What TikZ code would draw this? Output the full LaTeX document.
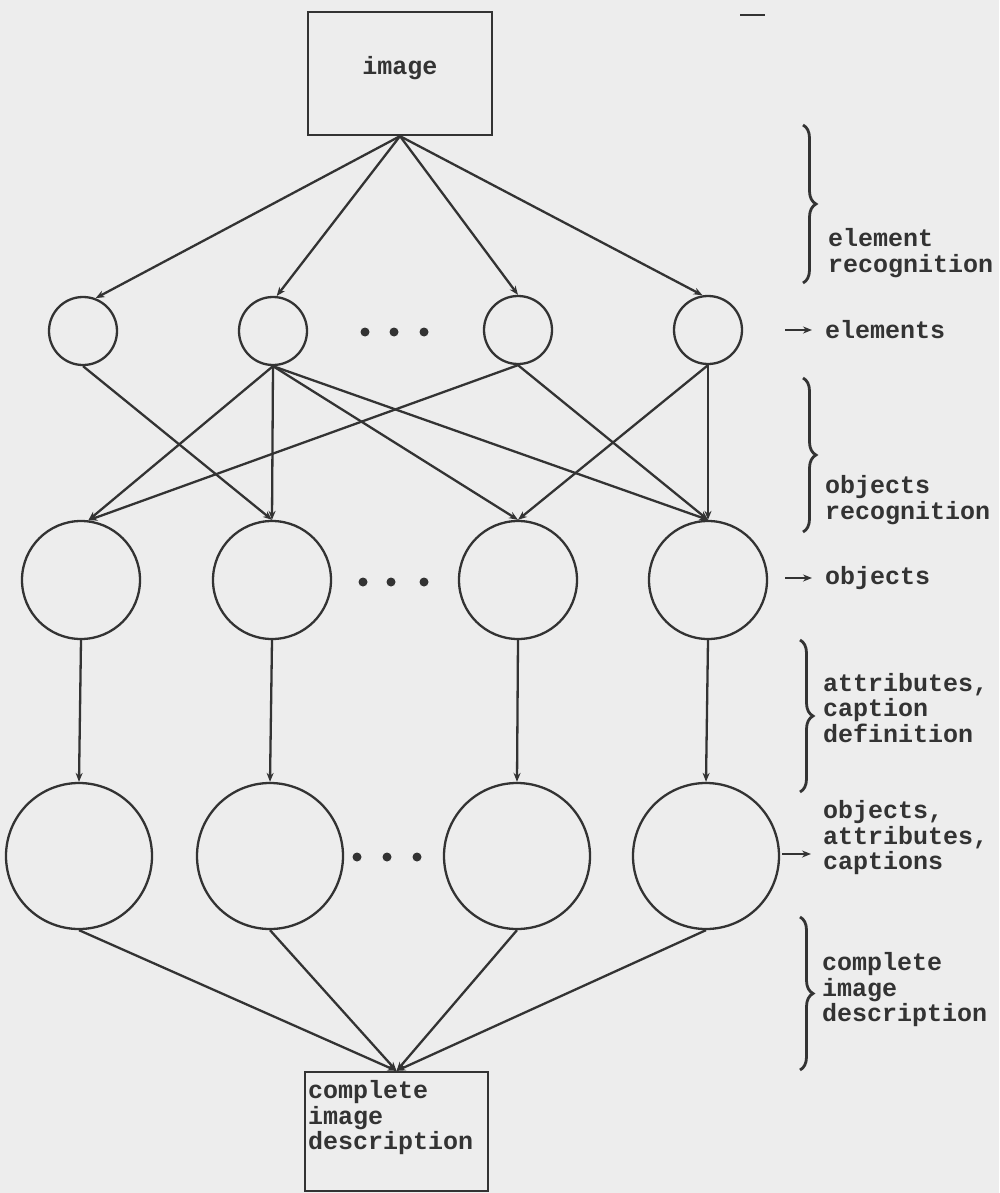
\documentclass[tikz,border=0pt]{standalone}
\usepackage{fontspec}
\setmonofont{Liberation Mono}
\usetikzlibrary{arrows.meta,decorations.pathreplacing}
\definecolor{paper}{HTML}{EDEDED}
\definecolor{ink}{HTML}{333333}
\tikzset{
  lw/.style={line width=2.3pt, draw=ink},
  arr/.style={lw, -{Stealth[length=9pt,width=7pt]}},
  boxnode/.style={lw, rectangle, inner sep=0pt},
  elem/.style={lw, circle, minimum size=68pt, inner sep=0pt},
  obj/.style={lw, circle, minimum size=118pt, inner sep=0pt},
  res/.style={lw, circle, minimum size=146pt, inner sep=0pt},
  dotn/.style={circle, fill=ink, minimum size=9pt, inner sep=0pt},
  lab/.style={text=ink, font=\ttfamily\bfseries\fontsize{25}{25.5}\selectfont, align=left, inner sep=0pt},
  bracel/.style={line width=2.8pt, draw=ink, decorate, decoration={brace, amplitude=13pt}},
}
\begin{document}
\begin{tikzpicture}[x=1pt,y=-1pt]
\fill[paper] (0,0) rectangle (999,1193);
\useasboundingbox (0,0) rectangle (999,1193);

% top and bottom boxes
\node[boxnode, minimum width=184pt, minimum height=123pt] (img) at (400,73.5) {};
\node[lab] (imgtext) at (400,68) {image};
\node[boxnode, minimum width=183pt, minimum height=119pt] (desc) at (396.5,1131.5) {};
\node[lab, anchor=west] (desctext) at (308,1118) {complete\\image\\description};

% element circles
\node[elem] (e1) at (83,331) {};
\node[elem] (e2) at (273,331) {};
\node[elem] (e3) at (518,330) {};
\node[elem] (e4) at (708,330) {};
\node[dotn] (d11) at (365,332) {};
\node[dotn] (d12) at (394,332) {};
\node[dotn] (d13) at (424,332) {};

% object circles
\node[obj] (o1) at (81,580) {};
\node[obj] (o2) at (272,580) {};
\node[obj] (o3) at (518,580) {};
\node[obj] (o4) at (708,580) {};
\node[dotn] (d21) at (363,582) {};
\node[dotn] (d22) at (391,582) {};
\node[dotn] (d23) at (424,582) {};

% result circles
\node[res] (p1) at (79,856) {};
\node[res] (p2) at (270,856) {};
\node[res] (p3) at (517,856) {};
\node[res] (p4) at (706,856) {};
\node[dotn] (d31) at (357,857) {};
\node[dotn] (d32) at (387,857) {};
\node[dotn] (d33) at (417,857) {};

% image -> elements
\draw[arr] (img.south) -- (e1.69);
\draw[arr] (img.south) -- (e2.84);
\draw[arr] (img.south) -- (e3.north);
\draw[arr] (img.south) -- (e4.99);

% elements -> objects
\draw[arr] (e1.south) -- (o2.north);
\draw[arr] (e2.south) -- (o1.83);
\draw[arr] (e2.south) -- (o2.north);
\draw[arr] (e2.south) -- (o3.north);
\draw[arr] (e2.south) -- (o4.north);
\draw[arr] (e3.south) -- (o1.83);
\draw[arr] (e3.south) -- (o4.north);
\draw[arr] (e4.south) -- (o3.north);
\draw[arr] (e4.south) -- (o4.north);

% objects -> results
\draw[arr] (o1.south) -- (p1.north);
\draw[arr] (o2.south) -- (p2.north);
\draw[arr] (o3.south) -- (p3.north);
\draw[arr] (o4.south) -- (p4.north);

% results -> description
\draw[arr] (p1.south) -- (desc.north);
\draw[arr] (p2.south) -- (desc.north);
\draw[arr] (p3.south) -- (desc.north);
\draw[arr] (p4.south) -- (desc.north);

% braces
\coordinate (b1t) at (803,125); \coordinate (b1b) at (803,283);
\coordinate (b2t) at (803,378); \coordinate (b2b) at (803,532);
\coordinate (b3t) at (800,640); \coordinate (b3b) at (800,792);
\coordinate (b4t) at (800,917); \coordinate (b4b) at (800,1070);
\draw[bracel] (b1t) -- (b1b);
\draw[bracel] (b2t) -- (b2b);
\draw[bracel] (b3t) -- (b3b);
\draw[bracel] (b4t) -- (b4b);

% right labels
\node[lab, anchor=west] (l1) at (828,253) {element\\recognition};
\node[lab, anchor=west] (l2) at (825,330) {elements};
\node[lab, anchor=west] (l3) at (825,500) {objects\\recognition};
\node[lab, anchor=west] (l4) at (825,578) {objects};
\node[lab, anchor=west] (l5) at (823,708) {attributes,\\caption\\definition};
\node[lab, anchor=west] (l6) at (823,838) {objects,\\attributes,\\captions};
\node[lab, anchor=west] (l7) at (822,990) {complete\\image\\description};

% small arrows to labels
\coordinate (a2) at (785,330); \coordinate (a2e) at (812,330);
\coordinate (a4) at (785,578); \coordinate (a4e) at (812,578);
\coordinate (a6) at (782,854); \coordinate (a6e) at (811,854);
\draw[arr] (a2) -- (a2e);
\draw[arr] (a4) -- (a4e);
\draw[arr] (a6) -- (a6e);

% stray mark at top
\coordinate (m1) at (740,15); \coordinate (m2) at (765,15);
\draw[lw] (m1) -- (m2);
\end{tikzpicture}
\end{document}
